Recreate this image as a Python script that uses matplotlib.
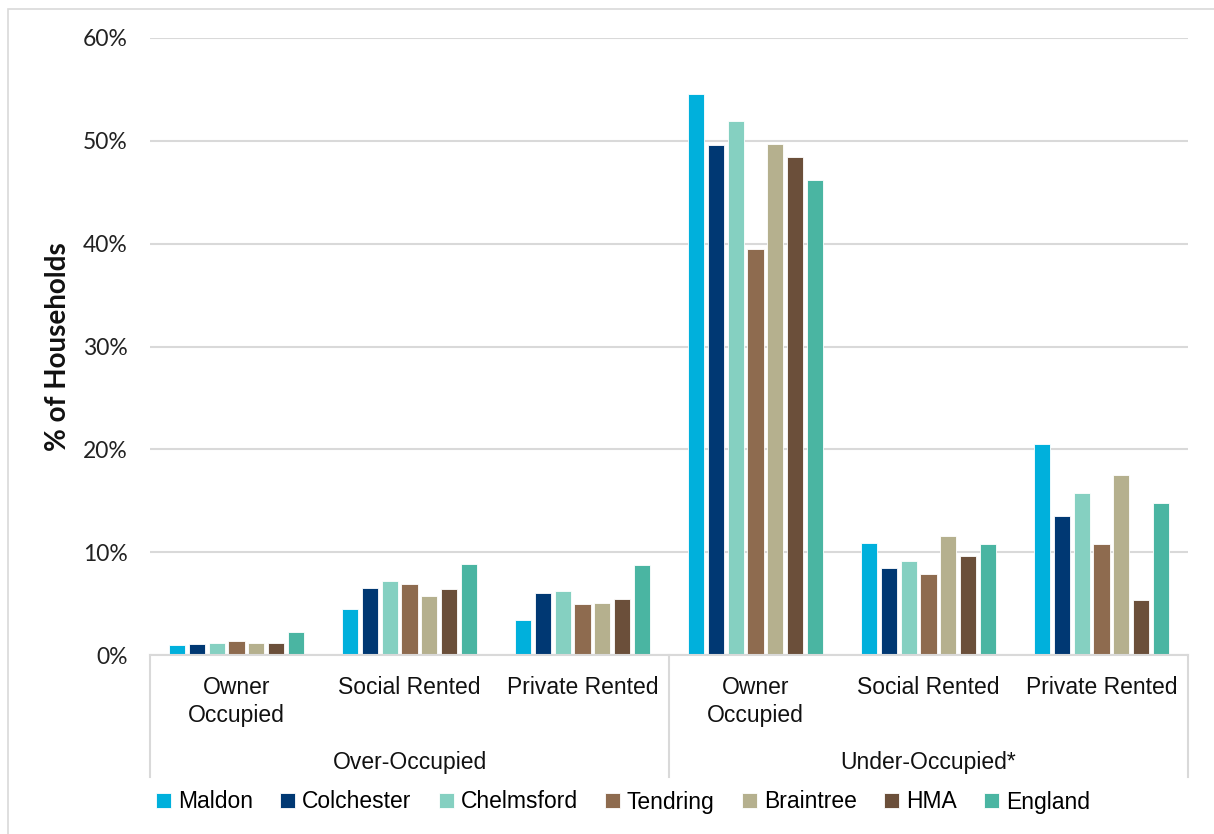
import matplotlib
matplotlib.use("Agg")
import matplotlib.pyplot as plt
from matplotlib.lines import Line2D
from matplotlib.patches import Rectangle
from matplotlib.transforms import blended_transform_factory
import numpy as np

W, H = 1214, 834

# tenure categories and the two occupancy groups
subcats = ["Owner\nOccupied", "Social Rented", "Private Rented",
           "Owner\nOccupied", "Social Rented", "Private Rented"]
groups = ["Over-Occupied", "Under-Occupied*"]

areas = ["Maldon", "Colchester", "Chelmsford", "Tendring", "Braintree", "HMA", "England"]
colors = ["#00B0DC", "#003873", "#85D0C1", "#8E6B4F", "#B5B08E", "#6B4F3A", "#4AB5A2"]

# % of households per area, one value per subcategory
maldon = [1.0, 4.5, 3.4, 54.6, 10.85, 20.55]
colchester = [1.1, 6.5, 6.0, 49.6, 8.5, 13.5]
chelmsford = [1.15, 7.2, 6.2, 51.95, 9.15, 15.8]
tendring = [1.4, 6.95, 5.0, 39.5, 7.9, 10.8]
braintree = [1.2, 5.7, 5.05, 49.65, 11.6, 17.55]
hma = [1.2, 6.4, 5.45, 48.45, 9.65, 5.35]
england = [2.2, 8.85, 8.75, 46.2, 10.75, 14.8]
series = [maldon, colchester, chelmsford, tendring, braintree, hma, england]

yticks = [0, 10, 20, 30, 40, 50, 60]

fig = plt.figure(figsize=(W / 100, H / 100), dpi=100)

# outer frame
fig.patches.append(Rectangle((8 / W, -0.01), 1.1, 1 - 9 / H + 0.01,
                             transform=fig.transFigure, fill=False,
                             edgecolor="#D9D9D9", linewidth=1.2))

left, right, top, bottom = 150, 1188, 38, 655
ax = fig.add_axes([left / W, 1 - bottom / H, (right - left) / W, (bottom - top) / H])

x = np.arange(len(subcats))
slot = 0.114
bw = 0.093
for i, (name, vals) in enumerate(zip(areas, series)):
    ax.bar(x + (i - 3) * slot, vals, width=bw, color=colors[i], label=name,
           edgecolor="white", linewidth=0.6, zorder=3)

ax.set_xlim(-0.5, len(subcats) - 0.5)
ax.set_ylim(0, 60)
ax.set_yticks(yticks)
ax.set_yticklabels([f"{t}%" for t in yticks], fontfamily="Lato", fontsize=16.5,
                   color="#222222")
ax.tick_params(axis="y", length=0, pad=16)
ax.set_xticks([])
ax.grid(axis="y", color="#D9D9D9", linewidth=1.5, zorder=0)
for s in ["top", "right", "left"]:
    ax.spines[s].set_visible(False)
ax.spines["bottom"].set_color("#D9D9D9")
ax.spines["bottom"].set_linewidth(1.5)
ax.spines["bottom"].set_zorder(4)

fig.text(58 / W, 1 - 347 / H, "% of Households", rotation=90, ha="center",
         va="center", fontfamily="Lato", fontweight="bold", fontsize=20,
         color="#111111")

# two-level category axis
tr = blended_transform_factory(ax.transData, fig.transFigure)
for xi, lab in zip(x, subcats):
    ax.text(xi, 1 - 676 / H, lab, transform=tr, ha="center", va="top",
            fontfamily="Liberation Sans", fontsize=16.5, linespacing=1.3,
            color="#111111")
for gi, g in enumerate(groups):
    ax.text(gi * 3 + 1, 1 - 762 / H, g, transform=tr, ha="center", va="center",
            fontfamily="Liberation Sans", fontsize=16.5, color="#111111")
for xs in [-0.5, 2.5, 5.5]:
    ax.add_line(Line2D([xs, xs], [1 - bottom / H, 1 - 777 / H], transform=tr,
                       color="#D9D9D9", linewidth=1.5, clip_on=False))

leg = ax.legend(loc="center", bbox_to_anchor=(623 / W, 1 - 802 / H),
                bbox_transform=fig.transFigure, ncol=7, frameon=False,
                prop={"family": "Liberation Sans", "size": 16.5},
                handlelength=0.65, handleheight=0.65, handletextpad=0.3,
                columnspacing=1.2, borderaxespad=0)

fig.savefig("out.png", dpi=100)
